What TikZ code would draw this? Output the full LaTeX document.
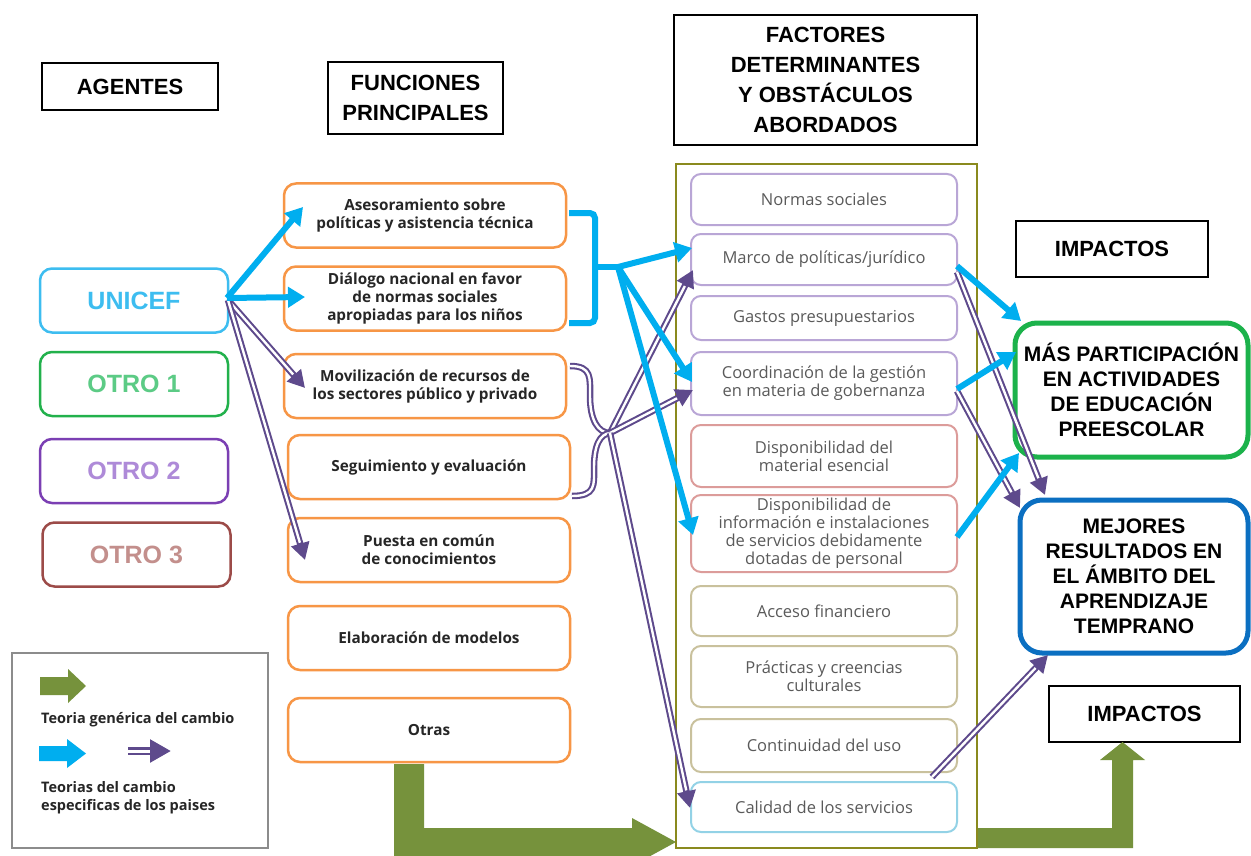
\documentclass[tikz,border=0pt]{standalone}
\usepackage{fontspec}
\setmainfont{Open Sans}
\newfontfamily\hdr{Liberation Sans}
\usetikzlibrary{arrows.meta}
\definecolor{cyanA}{HTML}{00AEEF}
\definecolor{purA}{HTML}{5E4A8C}
\definecolor{orgA}{HTML}{F79646}
\definecolor{olvA}{HTML}{8A8A1E}
\definecolor{grnA}{HTML}{76923C}
\definecolor{fpur}{HTML}{B9A6D6}
\definecolor{fred}{HTML}{DC9C9A}
\definecolor{fkha}{HTML}{C9C19D}
\definecolor{fblu}{HTML}{93D2E6}
\definecolor{unic}{HTML}{3DBDF0}
\definecolor{o1b}{HTML}{22B14C}
\definecolor{o1t}{HTML}{5CCB85}
\definecolor{o2b}{HTML}{7B3FB3}
\definecolor{o2t}{HTML}{AE8AD8}
\definecolor{o3b}{HTML}{9C4B48}
\definecolor{o3t}{HTML}{C38F8C}
\definecolor{imG}{HTML}{1CB24B}
\definecolor{imB}{HTML}{0B6FC1}
\definecolor{txtF}{HTML}{262626}
\definecolor{txtG}{HTML}{5A5A5A}
\definecolor{lgray}{HTML}{8C8C8C}
\tikzset{
  hdrbox/.style={draw=black, line width=2.5pt, inner sep=0pt, align=center, font=\hdr\bfseries\fontsize{22}{30}\selectfont},
  agbox/.style={draw=#1, line width=2.5pt, rounded corners=12pt, inner sep=0pt, minimum width=188pt, minimum height=64pt, font=\hdr\bfseries\fontsize{25}{30}\selectfont},
  fnbox/.style={draw=orgA, line width=2.5pt, rounded corners=12pt, inner sep=0pt, minimum width=282pt, minimum height=64pt, align=center, text=txtF, font=\bfseries\fontsize{15.3}{18}\selectfont},
  fcbox/.style={draw=#1, line width=2pt, rounded corners=10pt, inner sep=0pt, minimum width=266pt, align=center, text=txtG, font=\fontsize{16.5}{18}\selectfont},
  imbox/.style={draw=#1, line width=5pt, rounded corners=22pt, inner sep=0pt, align=center, font=\hdr\bfseries\fontsize{21}{25}\selectfont},
  cyarr/.style={draw=cyanA, line width=6pt, -{Triangle[length=17pt,width=20pt]}},
  cyline/.style={draw=cyanA, line width=6pt},
  pdout/.style={draw=purA, line width=6.5pt},
  pdin/.style={draw=white, line width=2.4pt},
  pdtip/.style={-{Triangle[length=17pt,width=18pt]}},
  lgtext/.style={inner sep=0pt, text=txtF, font=\bfseries\fontsize{14.5}{18}\selectfont, align=left},
}
\newcommand\pdarrow[2]{%
  \draw[pdout,pdtip] (#1) -- (#2);
  \draw[pdin, shorten >=18pt] (#1) -- (#2);}
\begin{document}
\begin{tikzpicture}[x=1pt,y=-1pt]
\useasboundingbox[fill=white] (0,0) rectangle (1251,856);

% ---------- headers
\node[hdrbox, minimum width=176pt, minimum height=47pt] (hAg) at (130,86.5) {AGENTES};
\node[hdrbox, minimum width=175pt, minimum height=72pt] (hFun) at (415.5,98) {FUNCIONES\\PRINCIPALES};
\node[hdrbox, minimum width=303pt, minimum height=130pt] (hFac) at (825.5,80) {FACTORES\\DETERMINANTES\\Y OBSTÁCULOS\\ABORDADOS};
\node[hdrbox, minimum width=192pt, minimum height=56pt] (hImp1) at (1112,249) {IMPACTOS};
\node[hdrbox, minimum width=191pt, minimum height=56pt] (hImp2) at (1144.5,714) {IMPACTOS};

% ---------- agents
\node[agbox=unic, text=unic] (unicef) at (134,300.5) {UNICEF};
\node[agbox=o1b, text=o1t] (otro1) at (134,384) {OTRO 1};
\node[agbox=o2b, text=o2t] (otro2) at (134,471) {OTRO 2};
\node[agbox=o3b, text=o3t] (otro3) at (136.5,554.5) {OTRO 3};

% ---------- functions
\node[fnbox] (f1) at (425,215.5) {Asesoramiento sobre\\políticas y asistencia técnica};
\node[fnbox] (f2) at (425,298.5) {Diálogo nacional en favor\\de normas sociales\\apropiadas para los niños};
\node[fnbox] (f3) at (425,386) {Movilización de recursos de\\los sectores público y privado};
\node[fnbox] (f4) at (429,467) {Seguimiento y evaluación};
\node[fnbox] (f5) at (429,550) {Puesta en común\\de conocimientos};
\node[fnbox] (f6) at (429,638) {Elaboración de modelos};
\node[fnbox] (f7) at (429,730) {Otras};

% ---------- green generic arrows
\fill[grnA] (394,764) -- (424,764) -- (424,828) -- (632,828) -- (632,818) -- (676,842) -- (632,866) -- (632,856) -- (394,856) -- cycle;
\fill[grnA] (977,828) -- (1112,828) -- (1112,760) -- (1100,760) -- (1122.5,742) -- (1145,760) -- (1133,760) -- (1133,848) -- (977,848) -- cycle;

% ---------- factors
\node[draw=olvA, line width=2pt, inner sep=0pt, minimum width=301pt, minimum height=684pt] (fac) at (826.5,506) {};
\node[fcbox=fpur, minimum height=51pt] (n1) at (824,199.5) {Normas sociales};
\node[fcbox=fpur, minimum height=51pt] (n2) at (824,259.5) {Marco de políticas/jurídico};
\node[fcbox=fpur, minimum height=44pt] (n3) at (824,318) {Gastos presupuestarios};
\node[fcbox=fpur, minimum height=63pt] (n4) at (824,383.5) {Coordinación de la gestión\\en materia de gobernanza};
\node[fcbox=fred, minimum height=62pt] (n5) at (824,456) {Disponibilidad del\\material esencial};
\node[fcbox=fred, minimum height=77pt] (n6) at (824,533.5) {Disponibilidad de\\información e instalaciones\\de servicios debidamente\\dotadas de personal};
\node[fcbox=fkha, minimum height=50pt] (n7) at (824,611) {Acceso financiero};
\node[fcbox=fkha, minimum height=61pt] (n8) at (824,676.5) {Prácticas y creencias\\culturales};
\node[fcbox=fkha, minimum height=53pt] (n9) at (824,745.5) {Continuidad del uso};
\node[fcbox=fblu, minimum height=50pt] (n10) at (824,807) {Calidad de los servicios};

% ---------- impacts
\node[imbox=imG, minimum width=233pt, minimum height=134pt] (imp1) at (1131.5,390) {MÁS PARTICIPACIÓN\\EN ACTIVIDADES\\DE EDUCACIÓN\\PREESCOLAR};
\node[imbox=imB, minimum width=228pt, minimum height=153pt] (imp2) at (1134,576.5) {MEJORES\\RESULTADOS EN\\EL ÁMBITO DEL\\APRENDIZAJE\\TEMPRANO};

% ---------- legend
\node[draw=lgray, line width=1.5pt, inner sep=0pt, minimum width=256pt, minimum height=195pt] (leg) at (140,750.5) {};
\fill[grnA] (40,677) -- (68,677) -- (68,669) -- (86,686) -- (68,703) -- (68,695) -- (40,695) -- cycle;
\node[lgtext, anchor=west] (lg1) at (41,720) {Teoria genérica del cambio};
\fill[cyanA] (39,746) -- (67,746) -- (67,739) -- (86,753.5) -- (67,768) -- (67,761) -- (39,761) -- cycle;
\coordinate (lgS) at (128,751);
\coordinate (lgT) at (171,751);
\draw[draw=purA, line width=8pt, -{Triangle[length=21pt,width=22pt]}] (lgS) -- (lgT);
\draw[draw=white, line width=3pt, shorten >=21pt] (lgS) -- (lgT);
\node[lgtext, anchor=north west] (lg2) at (41,781) {Teorias del cambio\\especificas de los paises};

% ---------- coordinates for connectors
\coordinate (uS) at (227,298);
\coordinate (uP) at (228,300);
\coordinate (f1T) at (303,207);
\coordinate (f2T) at (305,297);
\coordinate (f3T) at (305,388);
\coordinate (f5T) at (305,560);
\coordinate (cb1) at (569,213);
\coordinate (cb2) at (569,323);
\coordinate (cbv) at (595,267);
\coordinate (cj) at (618,267);
\coordinate (n2T) at (692,248);
\coordinate (n4T) at (692,382);
\coordinate (n6T) at (693,535);
\coordinate (n2R) at (957,266);
\coordinate (n4R) at (957,389);
\coordinate (n6R) at (957,537);
\coordinate (i1A) at (1021,321);
\coordinate (i1B) at (1016,352);
\coordinate (i1C) at (1019,453);
\coordinate (pj) at (610,433);
\coordinate (mS) at (570,366);
\coordinate (sS) at (572,496);
\coordinate (n2P) at (693,270);
\coordinate (n4P) at (693,390);
\coordinate (n10P) at (690,808);
\coordinate (m2S) at (957,272);
\coordinate (c2S) at (957,391);
\coordinate (q2S) at (932,777);
\coordinate (i2A) at (1045,495);
\coordinate (i2B) at (1020,508);
\coordinate (i2C) at (1048,655);

% ---------- purple country-specific arrows
\pdarrow{uP}{f3T}
\pdarrow{uP}{f5T}
\draw[pdout] (mS) .. controls (592,366) and (590,378) .. (590,396) .. controls (590,420) and (598,433) .. (pj);
\draw[pdin] (mS) .. controls (592,366) and (590,378) .. (590,396) .. controls (590,420) and (598,433) .. (pj);
\draw[pdout] (sS) .. controls (596,496) and (594,485) .. (594,468) .. controls (594,445) and (600,434) .. (pj);
\draw[pdin] (sS) .. controls (596,496) and (594,485) .. (594,468) .. controls (594,445) and (600,434) .. (pj);
\pdarrow{pj}{n2P}
\pdarrow{pj}{n4P}
\pdarrow{pj}{n10P}
\pdarrow{m2S}{i2A}
\pdarrow{c2S}{i2B}
\pdarrow{q2S}{i2C}

% ---------- cyan country-specific arrows
\draw[cyarr] (uS) -- (f1T);
\draw[cyarr] (uS) -- (f2T);
\draw[cyline, rounded corners=5pt] (cb1) -| (cbv) |- (cb2);
\draw[cyline] (cbv) -- (cj);
\draw[cyarr] (cj) -- (n2T);
\draw[cyarr] (cj) -- (n4T);
\draw[cyarr] (cj) -- (n6T);
\draw[cyarr] (n2R) -- (i1A);
\draw[cyarr] (n4R) -- (i1B);
\draw[cyarr] (n6R) -- (i1C);
\end{tikzpicture}
\end{document}
